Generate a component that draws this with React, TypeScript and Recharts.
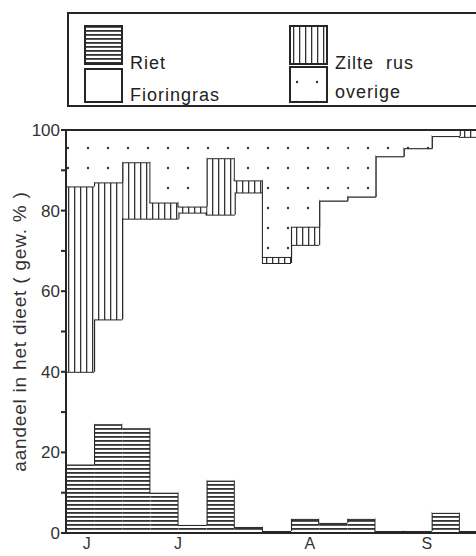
import { BarChart, Bar, XAxis, YAxis, Legend } from "recharts";

// periodes (weken) juni t/m september
const weeks = [1, 2, 3, 4, 5, 6, 7, 8, 9, 10, 11, 12, 13, 14, 15];
const riet = [17, 27, 26, 10, 2, 13, 1.5, 0.5, 3.5, 2.5, 3.5, 0.5, 0.5, 5, 0.5];
const fioringras = [23, 26, 52, 68, 77.5, 66, 83, 66.5, 68, 80, 80, 93, 95, 93.5, 97.8];
const zilteRus = [46, 34, 14, 4, 1.5, 14, 3, 1.5, 4.5, 0, 0, 0, 0, 0, 1.7];
const overige = [14, 13, 8, 18, 19, 7, 12.5, 31.5, 24, 17.5, 16.5, 6.5, 4.5, 1.5, 0];

const monthTicks = [1.24, 4.48, 9.17, 13.33];
const monthLabels = ["J", "J", "A", "S"];
const yTicks = [0, 10, 20, 30, 40, 50, 60, 70, 80, 90, 100];

const stackOrder = [riet, fioringras, zilteRus, overige];

const data = weeks.map((w, i) => ({
  week: w,
  riet: riet[i],
  fioringras: fioringras[i],
  zilteRus: zilteRus[i],
  overige: overige[i],
}));

const INK = "#262626";
const FONT = '"Liberation Sans", Arial, sans-serif';

// cumulative top of a stack level
const levelTop = (i: number, level: number) => {
  let s = 0;
  for (let k = 0; k <= level; k++) s += stackOrder[k][i];
  return s;
};

// fills the segment and only draws the step outline (top + left riser),
// like the hand drawn histogram
const stepShape = (level: number, fill: string) => (props: any) => {
  const { x, y, width, height, payload, background } = props;
  const i = weeks.indexOf(payload.week);
  const top = levelTop(i, level);
  let riser = null;
  if (i > 0 && background && background.height) {
    const px = background.height / 100;
    const base = background.y + background.height;
    const prevY = base - levelTop(i - 1, level) * px;
    const curY = base - top * px;
    if (Math.abs(prevY - curY) > 0.5) {
      riser = <line x1={x} x2={x} y1={prevY} y2={curY} stroke={INK} strokeWidth={2} />;
    }
  }
  return (
    <g>
      {height > 0 && <rect x={x} y={y} width={width} height={height} fill={fill} />}
      <line x1={x - 1} x2={x + width + 1} y1={y} y2={y} stroke={INK} strokeWidth={2} />
      {riser}
    </g>
  );
};

const Patterns = () => (
  <svg width={0} height={0} style={{ position: "absolute" }}>
    <defs>
      <pattern id="rietHatch" width={4} height={4} patternUnits="userSpaceOnUse">
        <rect width={4} height={4} fill="#fff" />
        <rect y={0} width={4} height={1.8} fill="#333" />
      </pattern>
      <pattern id="zilteHatch" width={6} height={6} patternUnits="userSpaceOnUse">
        <rect width={6} height={6} fill="#fff" />
        <rect x={2} width={1.3} height={6} fill="#333" />
      </pattern>
      <pattern id="overigeDots" width={20} height={20} patternUnits="userSpaceOnUse">
        <rect width={20} height={20} fill="#fff" />
        <circle cx={8} cy={8} r={1.2} fill="#333" />
      </pattern>
    </defs>
  </svg>
);

const legendItems = [
  { label: "Riet", fill: "url(#rietHatch)", x: 16, y: 12, h: 38, ty: 55 },
  { label: "Fioringras", fill: "#fff", x: 16, y: 55, h: 33, ty: 87 },
  { label: "Zilte rus", fill: "url(#zilteHatch)", x: 221, y: 12, h: 38, ty: 55 },
  { label: "overige", fill: "url(#overigeDots)", x: 221, y: 53, h: 35, ty: 84 },
];

const LegendBox = () => (
  <div
    style={{
      width: 430,
      height: 91,
      border: `2px solid ${INK}`,
      background: "#fff",
    }}
  >
    <svg width={430} height={91}>
      {legendItems.map((it) => (
        <g key={it.label}>
          <rect
            x={it.x}
            y={it.y}
            width={37}
            height={it.h}
            fill={it.fill}
            stroke={INK}
            strokeWidth={2}
          />
          <text
            x={it.x + 45}
            y={it.ty}
            fontFamily={FONT}
            fontSize={18}
            letterSpacing={1}
            wordSpacing={6}
            fill="#222"
          >
            {it.label}
          </text>
        </g>
      ))}
    </svg>
  </div>
);

export default function App() {
  return (
    <div
      style={{
        position: "fixed",
        left: 0,
        top: 0,
        width: 476,
        height: 556,
        overflow: "hidden",
        background: "#fff",
      }}
    >
      <Patterns />
      <BarChart
        width={500}
        height={556}
        data={data}
        margin={{ top: 130, right: 12, bottom: 0, left: 0 }}
        barCategoryGap={0}
        barGap={0}
      >
        <Bar dataKey="riet" name="Riet" stackId="d" fill="url(#rietHatch)" shape={stepShape(0, "url(#rietHatch)")} isAnimationActive={false} />
        <Bar dataKey="fioringras" name="Fioringras" stackId="d" fill="#fff" shape={stepShape(1, "#fff")} isAnimationActive={false} />
        <Bar dataKey="zilteRus" name="Zilte rus" stackId="d" fill="url(#zilteHatch)" shape={stepShape(2, "url(#zilteHatch)")} isAnimationActive={false} />
        <Bar dataKey="overige" name="overige" stackId="d" fill="url(#overigeDots)" shape={stepShape(3, "url(#overigeDots)")} isAnimationActive={false} />
        <XAxis
          dataKey="week"
          type="number"
          domain={[0.5, 15.5]}
          ticks={monthTicks}
          tickFormatter={(v: number) => monthLabels[monthTicks.indexOf(v)] ?? ""}
          height={23}
          tickLine={false}
          tickSize={0}
          tickMargin={5}
          axisLine={{ stroke: INK, strokeWidth: 2 }}
          tick={{ fill: "#333", fontSize: 16, fontFamily: FONT }}
          allowDataOverflow
        />
        <YAxis
          domain={[0, 100]}
          ticks={yTicks}
          interval={0}
          width={66}
          tickFormatter={(v: number) => (v % 20 === 0 ? String(v) : "")}
          tickSize={5}
          tickMargin={1}
          tickLine={{ stroke: INK, strokeWidth: 2 }}
          axisLine={{ stroke: INK, strokeWidth: 2 }}
          tick={{ fill: "#333", fontSize: 17, fontFamily: FONT }}
          label={{
            value: "aandeel in het dieet ( gew. % )",
            angle: -90,
            position: "insideLeft",
            offset: 19,
            style: {
              textAnchor: "middle",
              fill: "#333",
              fontSize: 19,
              fontFamily: FONT,
              letterSpacing: 0.8,
            },
          }}
        />
        <Legend
          layout="horizontal"
          verticalAlign="middle"
          align="center"
          content={() => <LegendBox />}
          wrapperStyle={{ top: 12, left: 67, width: 434 }}
        />
      </BarChart>
    </div>
  );
}
